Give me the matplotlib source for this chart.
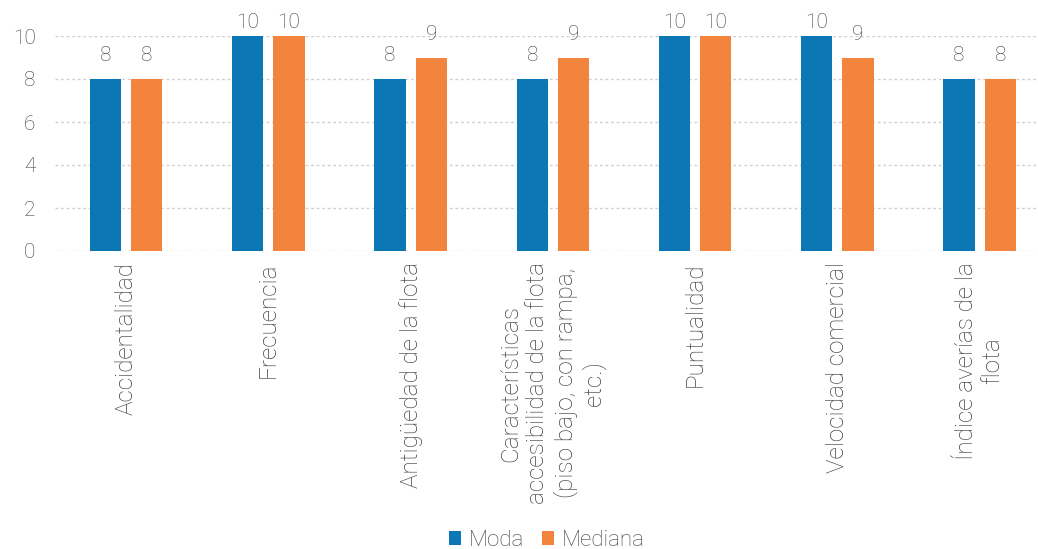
import numpy as np
import matplotlib.pyplot as plt

plt.rcParams['font.family'] = ['Roboto', 'DejaVu Sans']

categories = ["Accidentalidad", "Frecuencia", "Antigüedad de la flota",
              "Características\naccesibilidad de la flota\n(piso bajo, con rampa,\netc.)",
              "Puntualidad", "Velocidad comercial", "Índice averías de la\nflota"]
moda = [8, 10, 8, 8, 10, 10, 8]
mediana = [8, 10, 9, 9, 10, 9, 8]

blue = "#0b77b4"
orange = "#f3843e"
grey = "#404040"

fig = plt.figure(figsize=(10.38, 5.49), dpi=100)
ax = fig.add_axes([55 / 1038, 298 / 549, 1 - 55 / 1038, 215 / 549])

x = np.arange(len(categories))
w = 0.22
off = 0.145
b1 = ax.bar(x - off, moda, w, color=blue, label="Moda")
b2 = ax.bar(x + off, mediana, w, color=orange, label="Mediana")

# labels above bars (pushed down near the top edge, like the original)
for bars in (b1, b2):
    for r in bars:
        h = r.get_height()
        ax.text(r.get_x() + r.get_width() / 2, min(h + 0.65, 10.2), f"{h:.0f}",
                ha="center", va="bottom", fontsize=15, color=grey, fontweight="light", clip_on=False)

ax.set_xlim(-0.5, 6.41)
ax.set_ylim(0, 10)
ax.set_yticks(range(0, 11, 2))
ax.yaxis.grid(True, color="#d0d0d0", linestyle=(0, (2, 2)), linewidth=1)
ax.set_axisbelow(True)
for s in ax.spines.values():
    s.set_visible(False)
ax.tick_params(axis="both", length=0, labelsize=15, labelcolor=grey)
ax.tick_params(axis="y", pad=14)
ax.tick_params(axis="x", pad=8)
ax.set_xticks(x)
ax.set_xticklabels(categories, rotation=90, ha="center", va="top", multialignment="center",
                   fontsize=17.5, fontweight="light")
for t in ax.get_yticklabels():
    t.set_fontweight("light")

leg = fig.legend(handles=[b1, b2], loc="lower center", bbox_to_anchor=(0.527, -0.04), ncol=2, frameon=False,
                 fontsize=16, handlelength=0.55, handleheight=0.55, handletextpad=0.35, columnspacing=0.8,
                 labelcolor=grey)
for t in leg.get_texts():
    t.set_fontweight("light")

fig.savefig("out.png", dpi=100)
